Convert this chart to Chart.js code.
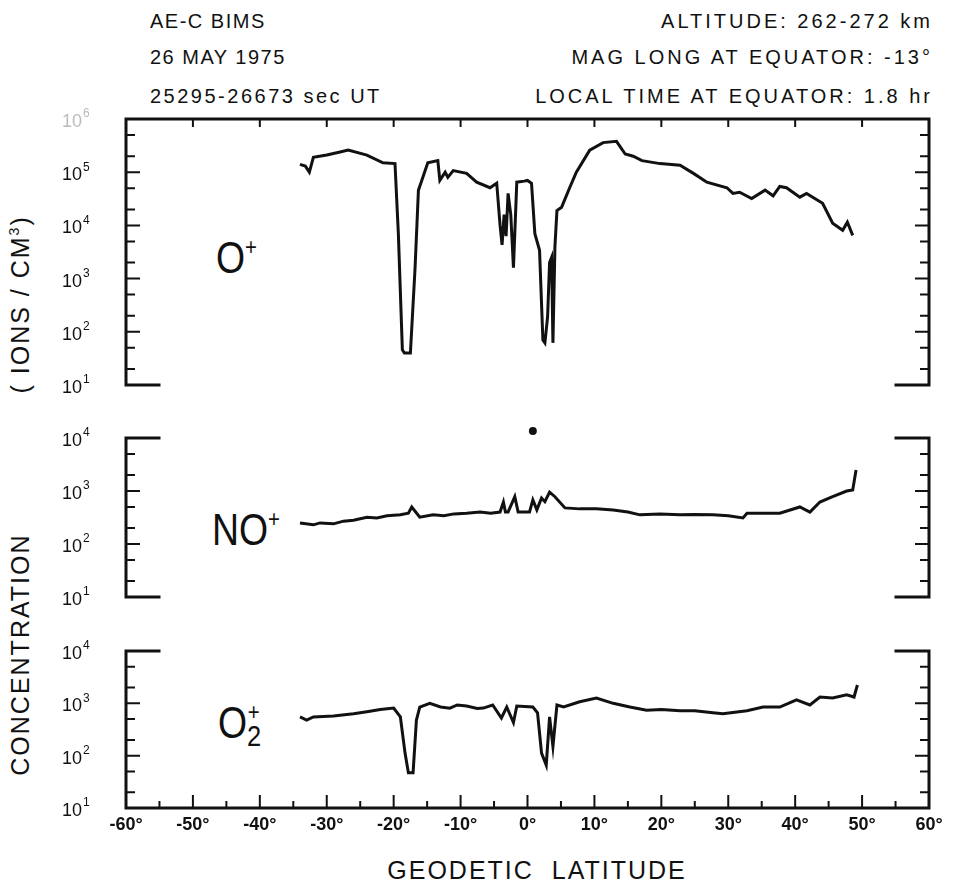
<!DOCTYPE html>
<html>
<head>
<meta charset="utf-8">
<script src="https://cdn.jsdelivr.net/npm/chart.js@4.4.0/dist/chart.umd.min.js"></script>
<style>
  body { margin: 0; background: #fff; width: 955px; height: 893px; overflow: hidden; position: relative;
         font-family: "Liberation Sans", Arial, sans-serif; color: #111; }
  canvas { position: absolute; left: 0; top: 0; }
  .t { position: absolute; font-size: 20px; letter-spacing: 1.5px; white-space: nowrap; line-height: 20px; }
  .r { text-align: right; letter-spacing: 3px; }
  .ion { position: absolute; font-size: 44px; line-height: 44px; transform: scaleX(0.85); transform-origin: left top; }
  .ion sup { font-size: 24px; vertical-align: 18px; }
  .ion sub { font-size: 30px; vertical-align: -8px; }
</style>
</head>
<body>
<div class="t" style="left:150px;top:11px">AE-C BIMS</div>
<div class="t" style="left:150px;top:47px">26 MAY 1975</div>
<div class="t" style="left:150px;top:86px;letter-spacing:2.5px">25295-26673 sec UT</div>
<div class="t r" style="right:22px;top:11px">ALTITUDE: 262-272 km</div>
<div class="t r" style="right:22px;top:47px">MAG LONG AT EQUATOR: -13°</div>
<div class="t r" style="right:22px;top:86px">LOCAL TIME AT EQUATOR: 1.8 hr</div>

<div class="ion" style="left:216px;top:225px">O<sup>+</sup></div>
<div class="ion" style="left:212px;top:497px">NO<sup>+</sup></div>
<div class="ion" style="left:218px;top:690px">O<sub>2</sub><sup style="margin-left:-16px">+</sup></div>

<div style="position:absolute;left:20px;top:495px;width:640px;margin-left:-320px;margin-top:-14px;text-align:center;
            font-size:25px;letter-spacing:2px;transform:rotate(-90deg);white-space:nowrap">CONCENTRATION<span style="display:inline-block;width:140px"></span>( IONS / CM<sup style="font-size:14px">3</sup>)</div>
<div style="position:absolute;left:537px;top:856px;width:500px;margin-left:-250px;text-align:center;
            font-size:25px;letter-spacing:2px;white-space:nowrap">GEODETIC&nbsp;&nbsp;LATITUDE</div>

<canvas id="top" width="955" height="893"></canvas>
<canvas id="mid" width="955" height="893"></canvas>
<canvas id="bot" width="955" height="893"></canvas>

<script>
// --- Data (geodetic latitude in degrees, concentration in ions/cm^3) ---
const oLat = [-34, -33.2, -32.6, -32, -30, -28, -26.8, -24, -21.6, -19.8, -19.3, -18.7, -18.4, -17.5, -16.8, -16.3, -15.8,
  -14.9, -13.4, -13.1, -12.3, -11.9, -11.1, -9.1, -7.6, -5.6, -4.6, -4.1, -3.8, -3.5, -3.2, -2.9, -2.5, -2.1, -1.6, -0.5,
  0, 0.6, 1.1, 1.8, 2.3, 2.6, 3.0, 3.3, 3.6, 3.8, 4.1, 4.4, 5.1, 6.3, 7.3, 9.3, 11.3, 13.3, 14.6, 15.8, 17.1, 19.8, 22.8,
  24.8, 26.8, 29.8, 30.7, 31.7, 33.5, 35.5, 36.7, 37.7, 38.7, 40.7, 41.7, 44.1, 45.6, 47.1, 47.8, 48.6];
const oVal = [1.4e5, 1.3e5, 1.0e5, 1.9e5, 2.1e5, 2.4e5, 2.6e5, 2.1e5, 1.5e5, 1.45e5, 7e3, 46, 40, 40, 1.6e3, 4.6e4, 7e4,
  1.5e5, 1.65e5, 7e4, 1e5, 8e4, 1.07e5, 9.5e4, 6.5e4, 5.1e4, 6.2e4, 1e4, 4.3e3, 1.6e4, 6.3e3, 4e4, 1.6e4, 1.6e3, 6.5e4, 6.8e4,
  7e4, 6.2e4, 7e3, 3.4e3, 70, 62, 190, 2e3, 2.5e3, 62, 4e3, 1.9e4, 2.2e4, 5.1e4, 1e5, 2.6e5, 3.6e5, 3.8e5, 2.2e5, 2e5, 1.65e5, 1.45e5, 1.35e5,
  9.5e4, 6.5e4, 5.1e4, 4e4, 4.2e4, 3.2e4, 4.6e4, 3.6e4, 5.4e4, 5.1e4, 3.4e4, 4e4, 2.6e4, 1.1e4, 8.1e3, 1.15e4, 6.5e3];

const noLat = [-34, -32, -31, -29, -27.5, -26, -24, -22.5, -21, -19, -17.8, -17.3, -16.1, -14.1, -12.5, -11, -9.1, -7.1, -5.5,
  -4.1, -3.6, -3.3, -2.9, -1.9, -1.4, 0.3, 0.8, 1.4, 2.1, 2.6, 3.3, 4.1, 5.6, 7.8, 10.3, 12.8, 15, 16.8, 19.8, 22.8, 25,
  27.7, 30, 32.2, 32.8, 35, 37.7, 40.7, 42.2, 43.7, 45.6, 47.7, 48.6, 49.1];
const noVal = [250, 230, 250, 240, 270, 280, 320, 310, 340, 355, 380, 500, 320, 355, 340, 370, 380, 400, 380,
  400, 620, 400, 400, 780, 400, 400, 680, 440, 740, 630, 950, 780, 480, 460, 460, 440, 400, 355, 370, 355, 360,
  355, 340, 310, 380, 380, 380, 500, 400, 620, 780, 1000, 1050, 2500];
// single isolated NO+ point plotted just above the panel top
const noDotLat = [0.8];
const noDotVal = [1.35e4];

const o2Lat = [-34, -33, -32, -29, -26, -24, -22, -20, -19, -18.3, -17.8, -17.1, -16.6, -16.1, -14.6, -13, -11.6, -10.5, -9.1,
  -7.5, -6.6, -5.2, -3.9, -3.1, -2.1, -1.6, 0.8, 1.5, 2.1, 2.8, 3.3, 3.8, 4.4, 5.4, 7.8, 10.3, 12.8, 15.3, 17.8, 20, 22.8,
  25, 27.7, 29.2, 32.8, 35.2, 37.7, 40.2, 42.2, 43.7, 45.6, 47.7, 48.8, 49.3];
const o2Val = [550, 480, 550, 575, 630, 690, 760, 810, 550, 112, 47, 47, 480, 850, 1000, 850, 810, 930, 890,
  800, 810, 930, 525, 850, 430, 890, 850, 660, 112, 66, 550, 150, 930, 850, 1070, 1260, 1000, 850, 740, 760, 720,
  720, 660, 630, 720, 850, 850, 1170, 930, 1320, 1260, 1450, 1320, 2240];

// --- Axis ticks ---
const latTicks = [-60, -50, -40, -30, -20, -10, 0, 10, 20, 30, 40, 50, 60];
const latMinor = [-55, -45, -35, -25, -15, -5, 5, 15, 25, 35, 45, 55];
const topDecades = [1, 2, 3, 4, 5, 6];
const lowDecades = [1, 2, 3, 4];
const decadeSteps = [1, 2, 5];

const pts = (xs, ys) => xs.map((x, i) => ({ x: x, y: ys[i] }));

// draws the hand-drawn style frame, inward ticks and tick labels from the chart scales
const framePlugin = {
  id: 'frame',
  afterDraw(chart, args, opts) {
    const { ctx, chartArea: a, scales: { x, y } } = chart;
    const stub = 33;
    ctx.save();
    ctx.strokeStyle = '#111';
    ctx.fillStyle = '#111';
    ctx.lineCap = 'square';
    ctx.lineWidth = 3;
    ctx.beginPath();
    ctx.moveTo(a.left, a.top); ctx.lineTo(a.left, a.bottom);
    ctx.moveTo(a.right, a.top); ctx.lineTo(a.right, a.bottom);
    [['top', opts.topFull], ['bottom', opts.bottomFull]].forEach(([side, full]) => {
      const yy = a[side];
      if (full) { ctx.moveTo(a.left, yy); ctx.lineTo(a.right, yy); }
      else {
        ctx.moveTo(a.left, yy); ctx.lineTo(a.left + stub, yy);
        ctx.moveTo(a.right - stub, yy); ctx.lineTo(a.right, yy);
      }
    });
    ctx.stroke();

    // y ticks, both sides, pointing in
    ctx.lineWidth = 2;
    ctx.beginPath();
    opts.decades.forEach(d => {
      decadeSteps.forEach(m => {
        const v = m * Math.pow(10, d);
        if (v <= y.min || v >= y.max) return;
        const py = y.getPixelForValue(v);
        const len = m === 1 ? 13 : 8;
        ctx.moveTo(a.left, py); ctx.lineTo(a.left + len, py);
        ctx.moveTo(a.right, py); ctx.lineTo(a.right - len, py);
      });
    });
    // x ticks
    if (opts.topFull) {
      latTicks.slice(1, -1).forEach(v => {
        const px = x.getPixelForValue(v);
        ctx.moveTo(px, a.top); ctx.lineTo(px, a.top + 7);
      });
    }
    if (opts.bottomFull) {
      latTicks.slice(1, -1).forEach(v => {
        const px = x.getPixelForValue(v);
        ctx.moveTo(px, a.bottom); ctx.lineTo(px, a.bottom - 12);
      });
      latMinor.forEach(v => {
        const px = x.getPixelForValue(v);
        ctx.moveTo(px, a.bottom); ctx.lineTo(px, a.bottom - 6);
      });
    }
    ctx.stroke();

    // off-scale points (drawn through the scale, outside the plot box)
    if (opts.dots) {
      opts.dots.lat.forEach((lat, i) => {
        ctx.beginPath();
        ctx.arc(x.getPixelForValue(lat), y.getPixelForValue(opts.dots.val[i]), 4, 0, Math.PI * 2);
        ctx.fill();
      });
    }

    // decade labels
    opts.decades.forEach(d => {
      const py = y.getPixelForValue(Math.pow(10, d));
      ctx.fillStyle = (opts.faintTop && d === opts.decades[opts.decades.length - 1]) ? '#bbb' : '#111';
      ctx.textBaseline = 'middle';
      ctx.textAlign = 'left';
      ctx.font = '18px "Liberation Sans", Arial, sans-serif';
      ctx.fillText('10', 62, py + 3);
      ctx.font = '12px "Liberation Sans", Arial, sans-serif';
      ctx.fillText(String(d), 83, py - 5);
    });

    // latitude labels
    if (opts.xLabels) {
      ctx.fillStyle = '#111';
      ctx.font = 'bold 18px "Liberation Sans", Arial, sans-serif';
      ctx.textAlign = 'center';
      ctx.textBaseline = 'middle';
      latTicks.forEach(v => {
        ctx.fillText(v + '°', x.getPixelForValue(v), a.bottom + 17);
      });
    }
    ctx.restore();
  }
};

function makePanel(id, series, yMax, box, frame) {
  return new Chart(document.getElementById(id), {
    type: 'line',
    data: { datasets: series },
    options: {
      responsive: false,
      animation: false,
      events: [],
      layout: { padding: { left: 126, right: 955 - 929, top: box.top, bottom: 893 - box.bottom } },
      plugins: { legend: { display: false }, tooltip: { enabled: false }, frame: frame },
      scales: {
        x: { type: 'linear', min: -60, max: 60, display: false },
        y: { type: 'logarithmic', min: 10, max: yMax, display: false }
      }
    },
    plugins: [framePlugin]
  });
}

const lineStyle = { borderColor: '#111', borderWidth: 3, pointRadius: 0, tension: 0, fill: false };

makePanel('top', [Object.assign({ data: pts(oLat, oVal) }, lineStyle)], 1e6,
  { top: 119, bottom: 385 },
  { topFull: true, bottomFull: false, decades: topDecades, faintTop: true, xLabels: false });

makePanel('mid', [Object.assign({ data: pts(noLat, noVal) }, lineStyle)], 1e4,
  { top: 438, bottom: 597 },
  { topFull: false, bottomFull: false, decades: lowDecades, faintTop: false, xLabels: false,
    dots: { lat: noDotLat, val: noDotVal } });

makePanel('bot', [Object.assign({ data: pts(o2Lat, o2Val) }, lineStyle)], 1e4,
  { top: 651, bottom: 808 },
  { topFull: false, bottomFull: true, decades: lowDecades, faintTop: false, xLabels: true });
</script>
</body>
</html>
